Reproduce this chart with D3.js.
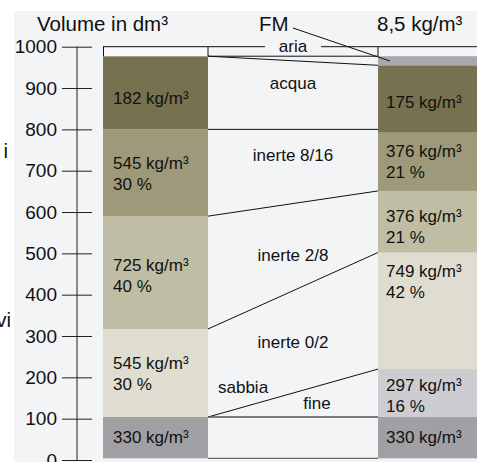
<!DOCTYPE html>
<html><head><meta charset="utf-8">
<script src="https://cdn.jsdelivr.net/npm/d3@7"></script>
<style>
html,body{margin:0;padding:0;background:#fff;}
svg{display:block;font-family:"Liberation Sans",Arial,Helvetica,sans-serif;}
</style></head>
<body>
<svg id="c" width="477" height="462"></svg>
<script>
// ---- data ----
const yTicks = [0,100,200,300,400,500,600,700,800,900,1000];
// left column (initial mix) layers: [bottom, top]
const leftNames  = ["cemento","inerte 0/2","inerte 2/8","inerte 8/16","acqua"];
const leftLow    = [4, 104, 317, 590, 800];
const leftHigh   = [104, 317, 590, 800, 977];
const leftLine1  = ["330 kg/m³","545 kg/m³","725 kg/m³","545 kg/m³","182 kg/m³"];
const leftLine2  = ["","30 %","40 %","30 %",""];
// right column layers
const rightNames = ["cemento","sabbia fine","inerte 0/2","inerte 2/8","inerte 8/16","acqua","FM"];
const rightLow   = [4, 104, 220, 502, 651, 792, 955];
const rightHigh  = [104, 220, 502, 651, 792, 955, 977];
const rightLine1 = ["330 kg/m³","297 kg/m³","749 kg/m³","376 kg/m³","376 kg/m³","175 kg/m³",""];
const rightLine2 = ["","16 %","42 %","21 %","21 %","",""];
// connectors: left value -> right value
const connFrom = [977, 977, 800, 590, 317, 104];
const connTo   = [977, 955, 800, 651, 502, 220];
const middleLabels = ["acqua","inerte 8/16","inerte 2/8","inerte 0/2"];
const middleLabelVals = [920, 770, 485, 275];

const colors = {
  "cemento":"#a0a0a4","sabbia fine":"#cdcdd1","inerte 0/2":"#dfddd0",
  "inerte 2/8":"#bfbda3","inerte 8/16":"#9d997a","acqua":"#76724f","FM":"#a9a8ae"
};

const svg = d3.select("#c");
svg.append("rect").attr("x",14).attr("y",11).attr("width",463).attr("height",451).attr("fill","#f3f4f6");

const y = d3.scaleLinear().domain([0,1000]).range([460,46.7]);
const xL0 = 103, xL1 = 208, xR0 = 378, xR1 = 477;

// axis
const axis = d3.axisLeft(y).tickValues(yTicks).tickSize(30).tickPadding(5).tickFormat(d3.format("d"));
const ag = svg.append("g").attr("transform","translate(92,0)").call(axis);
ag.select(".domain").remove();
ag.selectAll(".tick line").attr("stroke","#222").attr("stroke-width",1);
ag.selectAll(".tick text").attr("font-size",19).attr("fill","#111").attr("font-family","Liberation Sans,Arial,sans-serif");
svg.append("line").attr("x1",77).attr("x2",77).attr("y1",y(1000)).attr("y2",y(0)).attr("stroke","#222");

// left bars
svg.selectAll(".lb").data(leftNames).enter().append("rect")
  .attr("x",xL0).attr("width",xL1-xL0)
  .attr("y",(d,i)=>y(leftHigh[i])).attr("height",(d,i)=>y(leftLow[i])-y(leftHigh[i]))
  .attr("fill",d=>colors[d]);
// right bars
svg.selectAll(".rb").data(rightNames).enter().append("rect")
  .attr("x",xR0).attr("width",xR1-xR0)
  .attr("y",(d,i)=>y(rightHigh[i])).attr("height",(d,i)=>y(rightLow[i])-y(rightHigh[i]))
  .attr("fill",d=>colors[d]);

// air box (left)
svg.append("rect").attr("x",xL0).attr("y",y(1000)).attr("width",xL1-xL0).attr("height",y(977)-y(1000)).attr("fill","#f8f8f9");
svg.append("line").attr("x1",xL0+0.5).attr("x2",xL0+0.5).attr("y1",y(1000)).attr("y2",y(977)).attr("stroke","#111");
svg.append("line").attr("x1",xL1).attr("x2",xL1).attr("y1",y(1000)).attr("y2",y(977)).attr("stroke","#111");
svg.append("line").attr("x1",xR0).attr("x2",xR0).attr("y1",y(1000)).attr("y2",y(977)).attr("stroke","#111");
// top line with aria gap
svg.append("line").attr("x1",xL0).attr("x2",265).attr("y1",y(1000)).attr("y2",y(1000)).attr("stroke","#111");
svg.append("line").attr("x1",321).attr("x2",xR1).attr("y1",y(1000)).attr("y2",y(1000)).attr("stroke","#111");
svg.append("text").attr("x",293).attr("y",52).attr("text-anchor","middle").attr("font-size",17).attr("fill","#111").text("aria");

// connectors
svg.selectAll(".cn").data(connFrom).enter().append("line")
  .attr("x1",xL1).attr("x2",xR0)
  .attr("y1",d=>y(d)).attr("y2",(d,i)=>y(connTo[i]))
  .attr("stroke","#111").attr("stroke-width",1);
// cement and base lines
svg.append("line").attr("x1",xL1).attr("x2",xR0).attr("y1",y(104)).attr("y2",y(104)).attr("stroke","#555").attr("stroke-width",1.3);
svg.append("line").attr("x1",xL1).attr("x2",xR0).attr("y1",y(4)).attr("y2",y(4)).attr("stroke","#666").attr("stroke-width",1.3);

// FM pointer
svg.append("line").attr("x1",293).attr("y1",28).attr("x2",390).attr("y2",61).attr("stroke","#111");

// middle labels
svg.selectAll(".ml").data(middleLabels).enter().append("text")
  .attr("x",293).attr("y",(d,i)=>[89,161,261,348][i])
  .attr("text-anchor","middle").attr("font-size",17).attr("fill","#111").text(d=>d);
svg.append("text").attr("x",218).attr("y",393).attr("font-size",17).attr("fill","#111").text("sabbia");
svg.append("text").attr("x",317).attr("y",409).attr("text-anchor","middle").attr("font-size",17).attr("fill","#111").text("fine");

// bar labels
const leftBase = [443, 369, 271, 169, 104];
leftNames.forEach((n,i)=>{
  svg.append("text").attr("x",113).attr("y",leftBase[i]).attr("font-size",17).attr("fill","#111").text(leftLine1[i]);
  if(leftLine2[i]) svg.append("text").attr("x",113).attr("y",leftBase[i]+21).attr("font-size",17).attr("fill","#111").text(leftLine2[i]);
});
const rightBase = [443, 391, 277, 222, 157, 108];
rightNames.forEach((n,i)=>{
  if(!rightLine1[i]) return;
  svg.append("text").attr("x",386).attr("y",rightBase[i]).attr("font-size",17).attr("fill","#111").text(rightLine1[i]);
  if(rightLine2[i]) svg.append("text").attr("x",386).attr("y",rightBase[i]+21).attr("font-size",17).attr("fill","#111").text(rightLine2[i]);
});

// header labels
svg.append("text").attr("x",37).attr("y",31).attr("font-size",20.5).attr("fill","#111").text("Volume in dm³");
svg.append("text").attr("x",259).attr("y",31).attr("font-size",20.5).attr("fill","#111").text("FM");
svg.append("text").attr("x",377).attr("y",31).attr("font-size",20.5).attr("fill","#111").text("8,5 kg/m³");
// cropped side labels
svg.append("text").attr("x",8).attr("y",158).attr("text-anchor","end").attr("font-size",20.5).attr("fill","#111").text("i");
svg.append("text").attr("x",11).attr("y",327).attr("text-anchor","end").attr("font-size",20.5).attr("fill","#111").text("vi");
</script>
</body></html>
